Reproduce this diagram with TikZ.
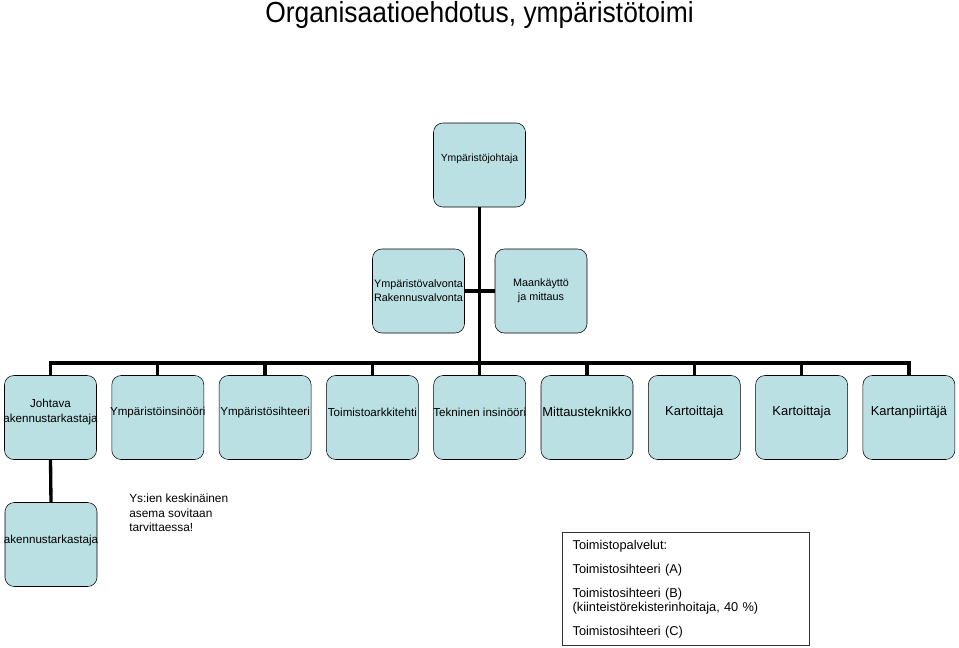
\documentclass[tikz,border=0pt]{standalone}
\usepackage{fontspec}
\setmainfont{Liberation Sans}
\definecolor{boxfill}{HTML}{BBE0E3}
\begin{document}
\begin{tikzpicture}[x=0.75pt, y=-0.75pt,
    orgbox/.style={draw=black, fill=boxfill, rounded corners=7pt, minimum width=69pt, minimum height=63pt, inner sep=0pt},
    conn/.style={line width=2.5pt, black},
    lbl/.style={align=center, inner sep=0pt, font=\fontsize{8.7}{11}\selectfont}]
    \useasboundingbox (0,0) rectangle (959,647);

    % Title
    \node[anchor=base, font=\fontsize{19.8}{24}\selectfont] (title) at (479.5,22) {\scalebox{1}[1.1]{Organisaatioehdotus, ympäristötoimi}};

    % Top of the chart
    \node[orgbox, label={[lbl, font=\fontsize{7.8}{10}\selectfont, yshift=4.5pt]center:Ympäristöjohtaja}] (johtaja) at (479.5,165) {};
    \node[orgbox, label={[lbl, font=\fontsize{8.1}{10.5}\selectfont]center:{Ympäristövalvonta\\Rakennusvalvonta}}] (valvonta) at (418.5,291) {};
    \node[orgbox, label={[lbl, font=\fontsize{8.1}{10.5}\selectfont]center:{Maankäyttö\\ja mittaus}}] (maankaytto) at (541,291) {};
    \coordinate (bus) at (479.5,363);

    % Staff row
    \node[orgbox, label={[lbl, yshift=4pt]center:{Johtava\\akennustarkastaja}}] (johtava) at (50.5,417.5) {};
    \node[orgbox, label={[lbl, yshift=4pt]center:Ympäristöinsinööri}] (insinoori) at (157.8,417.5) {};
    \node[orgbox, label={[lbl, yshift=4pt]center:Ympäristösihteeri}] (sihteeri) at (265.1,417.5) {};
    \node[orgbox, label={[lbl, yshift=4pt]center:Toimistoarkkitehti}] (arkkitehti) at (372.4,417.5) {};
    \node[orgbox, label={[lbl, yshift=4pt]center:Tekninen insinööri}] (tekninen) at (479.7,417.5) {};
    \node[orgbox, label={[lbl, font=\fontsize{9.7}{11}\selectfont, yshift=4pt]center:Mittausteknikko}] (mittaus) at (587,417.5) {};
    \node[orgbox, label={[lbl, font=\fontsize{9.7}{11}\selectfont, yshift=4pt]center:Kartoittaja}] (kartoittaja1) at (694.3,417.5) {};
    \node[orgbox, label={[lbl, font=\fontsize{9.7}{11}\selectfont, yshift=4pt]center:Kartoittaja}] (kartoittaja2) at (801.6,417.5) {};
    \node[orgbox, label={[lbl, font=\fontsize{9.7}{11}\selectfont, yshift=4pt]center:Kartanpiirtäjä}] (piirtaja) at (908.9,417.5) {};

    % Below the first box
    \node[orgbox, label={[lbl, yshift=3pt]center:akennustarkastaja}] (rakennus) at (51,544.5) {};
    \node[anchor=west, align=left, inner sep=0pt, font=\fontsize{8.9}{10.9}\selectfont] (huom) at (129,513) {Ys:ien keskinäinen\\asema sovitaan\\tarvittaessa!};

    % Office services
    \node[draw=black!80, line width=0.9pt, anchor=north west, minimum height=84.75pt, text width=170pt, align=left,
        inner xsep=7.5pt, inner ysep=4pt, font=\fontsize{9.6}{10.5}\selectfont] (palvelut) at (562,532)
        {Toimistopalvelut:\\[7.5pt] Toimistosihteeri (A)\\[7.5pt] Toimistosihteeri (B)\\(kiinteistörekisterinhoitaja, 40~\%)\\[7.5pt] Toimistosihteeri (C)};

    % Connectors
    \draw[conn] (johtaja.south) -- (bus);
    \draw[conn] (valvonta.east) -- (maankaytto.west);
    \draw[conn] (johtava.north) -- (johtava.north |- bus) -- (piirtaja.north |- bus) -- (piirtaja.north);
    \foreach \nm in {insinoori,sihteeri,arkkitehti,tekninen,mittaus,kartoittaja1,kartoittaja2}
        \draw[conn] (\nm.north) -- (\nm.north |- bus);
    \draw[conn] (johtava.south) -- (rakennus.north);
\end{tikzpicture}
\end{document}
